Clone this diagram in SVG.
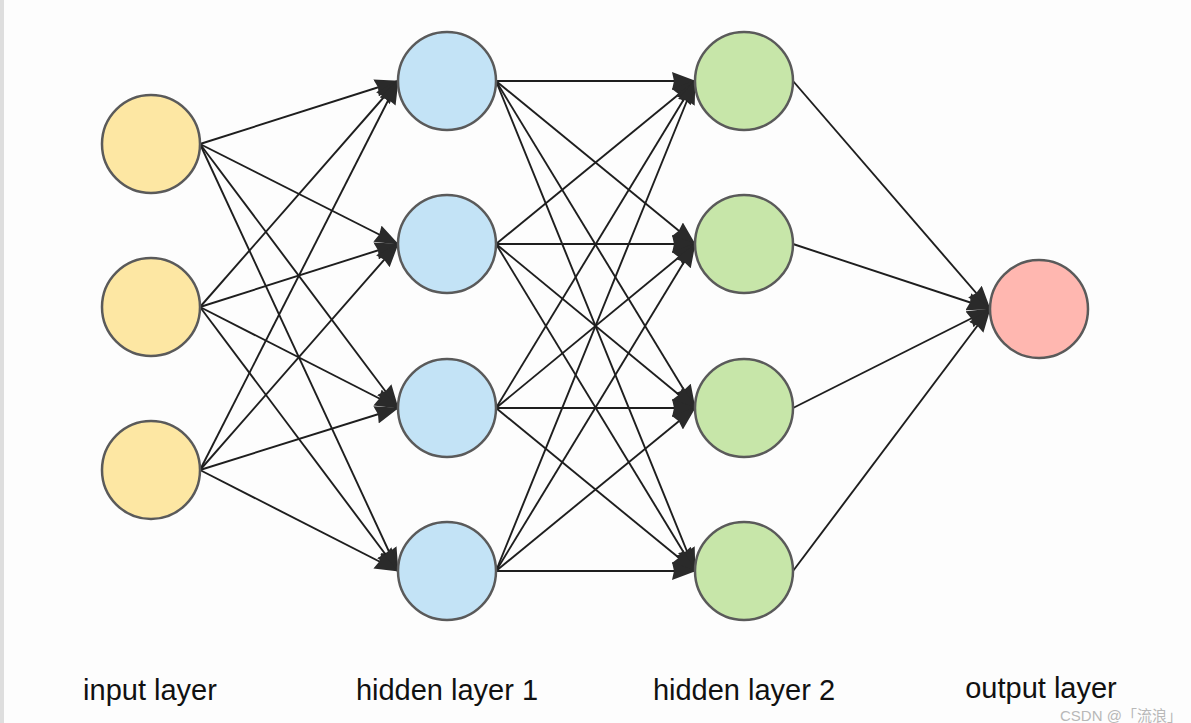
<svg xmlns="http://www.w3.org/2000/svg" width="1191" height="723" viewBox="0 0 1191 723">
<style>
.n{stroke:#5a5a5a;stroke-width:2.5}
.in{fill:#fde7a3}
.h1{fill:#c3e3f6}
.h2{fill:#c7e6a9}
.out{fill:#ffb7b0}
.e{stroke:#1e1e1e;stroke-width:1.9;fill:none;marker-end:url(#ah)}
.lbl{font-family:"Liberation Sans",Arial,sans-serif;font-size:29px;fill:#111;text-anchor:middle}
.wm{font-family:"Liberation Sans","Noto Sans CJK SC",sans-serif;font-size:15px;fill:#b8b8b8}
</style>
<defs>
<marker id="ah" viewBox="0 0 24 18" refX="23" refY="9" markerWidth="24" markerHeight="18" markerUnits="userSpaceOnUse" orient="auto">
<path d="M0,0 L24,9 L0,18 L2,9 z" fill="#2a2a2a"/>
</marker>
</defs>
<rect x="0" y="0" width="1191" height="723" fill="#fdfdfd"/>
<rect x="0" y="0" width="4" height="723" fill="#dedede"/>
<g id="connectors">
<line class="e" x1="200" y1="144" x2="398" y2="81"/>
<line class="e" x1="200" y1="144" x2="398" y2="244"/>
<line class="e" x1="200" y1="144" x2="398" y2="408"/>
<line class="e" x1="200" y1="144" x2="398" y2="571"/>
<line class="e" x1="200" y1="307" x2="398" y2="81"/>
<line class="e" x1="200" y1="307" x2="398" y2="244"/>
<line class="e" x1="200" y1="307" x2="398" y2="408"/>
<line class="e" x1="200" y1="307" x2="398" y2="571"/>
<line class="e" x1="200" y1="470" x2="398" y2="81"/>
<line class="e" x1="200" y1="470" x2="398" y2="244"/>
<line class="e" x1="200" y1="470" x2="398" y2="408"/>
<line class="e" x1="200" y1="470" x2="398" y2="571"/>
<line class="e" x1="496" y1="81" x2="695" y2="81"/>
<line class="e" x1="496" y1="81" x2="695" y2="244"/>
<line class="e" x1="496" y1="81" x2="695" y2="408"/>
<line class="e" x1="496" y1="81" x2="695" y2="571"/>
<line class="e" x1="496" y1="244" x2="695" y2="81"/>
<line class="e" x1="496" y1="244" x2="695" y2="244"/>
<line class="e" x1="496" y1="244" x2="695" y2="408"/>
<line class="e" x1="496" y1="244" x2="695" y2="571"/>
<line class="e" x1="496" y1="408" x2="695" y2="81"/>
<line class="e" x1="496" y1="408" x2="695" y2="244"/>
<line class="e" x1="496" y1="408" x2="695" y2="408"/>
<line class="e" x1="496" y1="408" x2="695" y2="571"/>
<line class="e" x1="496" y1="571" x2="695" y2="81"/>
<line class="e" x1="496" y1="571" x2="695" y2="244"/>
<line class="e" x1="496" y1="571" x2="695" y2="408"/>
<line class="e" x1="496" y1="571" x2="695" y2="571"/>
<line class="e" x1="793" y1="81" x2="990" y2="309"/>
<line class="e" x1="793" y1="244" x2="990" y2="309"/>
<line class="e" x1="793" y1="408" x2="990" y2="309"/>
<line class="e" x1="793" y1="571" x2="990" y2="309"/>
</g>
<g id="in1"><circle class="n in" cx="151" cy="144" r="49"/></g>
<g id="in2"><circle class="n in" cx="151" cy="307" r="49"/></g>
<g id="in3"><circle class="n in" cx="151" cy="470" r="49"/></g>
<g id="h1a"><circle class="n h1" cx="447" cy="81" r="49"/></g>
<g id="h1b"><circle class="n h1" cx="447" cy="244" r="49"/></g>
<g id="h1c"><circle class="n h1" cx="447" cy="408" r="49"/></g>
<g id="h1d"><circle class="n h1" cx="447" cy="571" r="49"/></g>
<g id="h2a"><circle class="n h2" cx="744" cy="81" r="49"/></g>
<g id="h2b"><circle class="n h2" cx="744" cy="244" r="49"/></g>
<g id="h2c"><circle class="n h2" cx="744" cy="408" r="49"/></g>
<g id="h2d"><circle class="n h2" cx="744" cy="571" r="49"/></g>
<g id="out1"><circle class="n out" cx="1039" cy="309" r="49"/></g>
<g id="labels">
<text class="lbl" x="150" y="700">input layer</text>
<text class="lbl" x="447" y="700">hidden layer 1</text>
<text class="lbl" x="744" y="700">hidden layer 2</text>
<text class="lbl" x="1041" y="698">output layer</text>
<text class="wm" x="1060" y="721">CSDN @「流浪」</text>
</g>
</svg>
